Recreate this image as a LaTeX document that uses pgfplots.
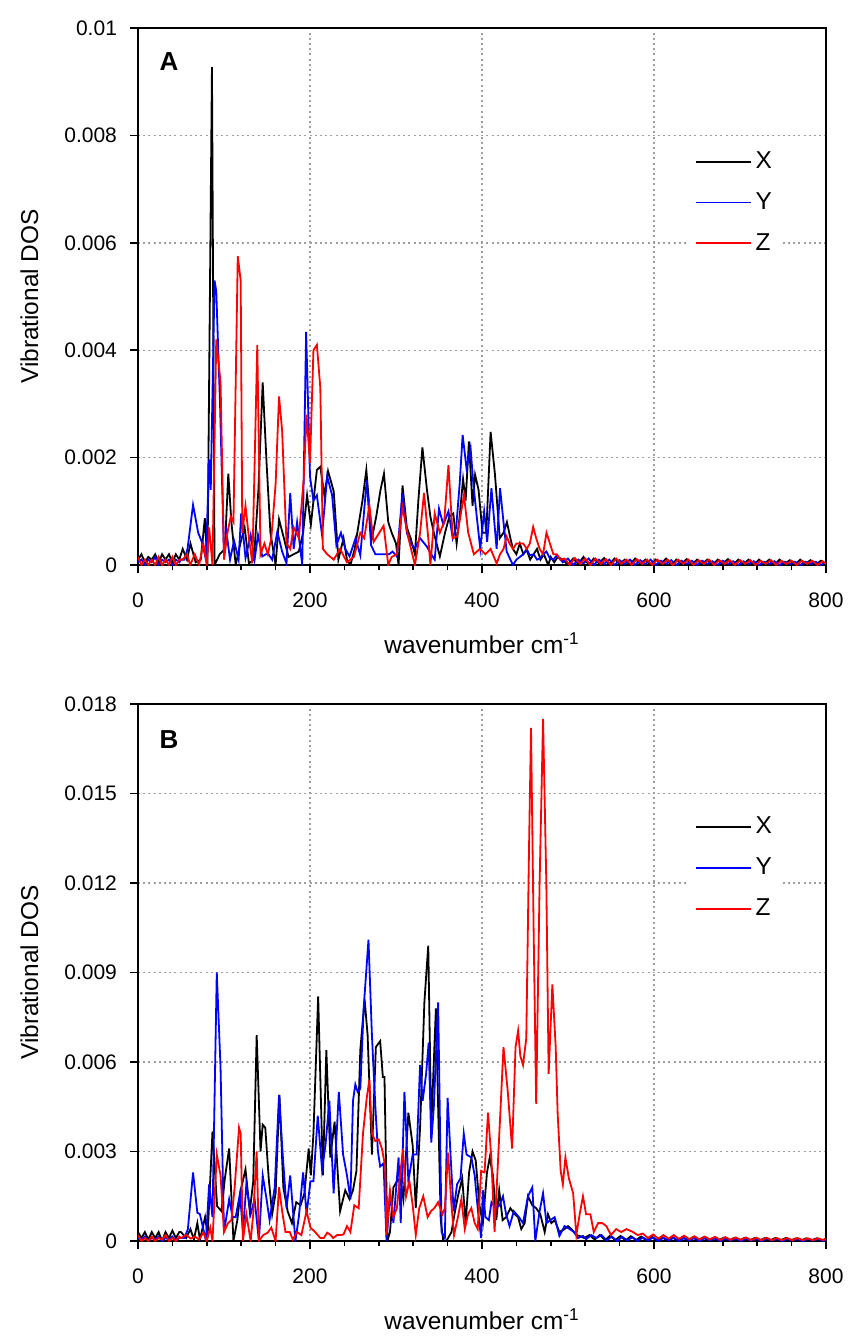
\documentclass[border=0pt]{standalone}
\usepackage{fontspec}
\setmainfont{Liberation Sans}
\usepackage{pgfplots}
\pgfplotsset{compat=1.18}
\begin{document}
\begin{tikzpicture}[x=1pt,y=1pt]
\useasboundingbox (0,0) rectangle (426.5,-669);
\pgfplotsset{
  dosaxis/.style={
    scale only axis, width=344pt, height=268.5pt,
    font=\fontsize{10.5}{12}\selectfont,
    xmin=0, xmax=800, xtick={0,200,...,800}, minor x tick num=4,
    ymin=0,
    tick align=outside, xtick pos=left, ytick pos=left,
    major tick length=4pt, minor tick length=2.5pt,
    every tick/.style={black, line width=0.8pt},
    axis line style={line width=0.9pt},
    grid=major,
    major grid style={gray!75, line width=0.7pt, dash pattern=on 1pt off 1.6pt},
    scaled y ticks=false, scaled x ticks=false,
    yticklabel style={/pgf/number format/fixed, /pgf/number format/precision=3, /pgf/number format/assume math mode=true, xshift=-3pt},
    xticklabel style={/pgf/number format/assume math mode=true, yshift=-6.5pt},
    xlabel={wavenumber cm\textsuperscript{-1}},
    ylabel={Vibrational DOS},
    label style={font=\fontsize{12.2}{14}\selectfont},
    xlabel style={at={(axis description cs:0.5,0)}, anchor=base, yshift=-44pt},
    ylabel style={at={(axis description cs:-0.1453,0.5)}, anchor=base},
    legend cell align=left,
    legend image code/.code={\draw[#1, line width=0.9pt] (0pt,0pt) -- (27.5pt,0pt);},
    legend style={draw=none, fill=white, anchor=north west, row sep=6.5pt,
      font=\fontsize{12.2}{14}\selectfont, nodes={inner sep=2pt}},
    every axis plot/.append style={line width=0.9pt, mark=none},
  }
}
% ---------------- Panel A ----------------
\begin{axis}[dosaxis, at={(69pt,-282.5pt)}, anchor=south west,
  ymax=0.01, ytick={0,0.002,...,0.0101},
  legend style={at={(rel axis cs:0.80,0.785)}}]
\addplot[black] coordinates {
(0,0.0001)(4,0.0002)(8,0.00005)(12,0.00015)(16,0.0001)(20,0.0002)(24,0.00005)(28,0.0002)(32,0.0001)(36,0.0002)(40,0.00005)(44,0.0002)(48,0.0001)(52,0.0003)(57,0.0001)(61,0.0004)(67,0.00005)(73,0.0001)(77.7,0.00087)(80.8,0)(86,0.00927)(89,0)(95,0.0002)(101,0.0003)(105,0.0017)(108.6,0.0008)(113.6,0)(119,0.0004)(124,0.0007)(129,0.00003)(134.8,0.0001)(140,0.0014)(145,0.0034)(149.5,0.0019)(154,0.0006)(160,0)(164,0.00085)(169.6,0.0005)(175,0.00015)(181,0.0002)(187,0.00025)(192,0.0006)(196.6,0.0013)(201,0.00075)(208,0.00177)(212,0.00183)(216.7,0.0013)(221,0.00175)(227.6,0.00137)(233,0.0001)(239,0.0005)(243,0.0001)(247,0)(252,0.0003)(256,0.0007)(261,0.0012)(265.5,0.00177)(272,0.0005)(277,0.0009)(282,0.0014)(286,0.0017)(291,0.0008)(295,0.0006)(300,0.0004)(303,0)(307.6,0.00148)(312.6,0.0007)(317,0.0005)(322,0.0002)(326,0.0012)(330.7,0.00219)(336,0.0014)(340,0.0009)(344,0.0006)(351,0.00016)(357,0.0006)(362,0.0009)(366.6,0.00096)(370.5,0.0004)(374,0.0009)(378,0.0016)(381,0.0012)(384.8,0.0023)(389,0.0011)(392,0.00168)(396,0.0014)(400.6,0.0006)(405,0.0006)(410,0.00248)(415,0.0017)(420.7,0.0005)(425,0.0006)(429,0.0008)(433,0.0005)(436,0.0003)(440,0.0002)(444,0.0004)(448,0.0002)(452,0.00028)(456,0.0001)(460,0.0002)(464,0.0003)(468,0.0001)(472,0.0002)(477,0)(480,0.00015)(484,0.00005)(488,0.00015)
(494,0.0001)(500,0)(506,0.00012)(512,0.00002)(518,0.00015)(524,0)(530,0.00012)(536,0.00003)(542,0.00013)(548,0)(554,0.00012)(560,0.00002)(566,0.0001)(572,0)(578,0.00012)(584,0.00002)(590,0.0001)(596,0)(602,0.0001)(608,0.00002)(614,0.00012)(620,0)(626,0.0001)(632,0.00002)(638,0.00011)(644,0)(650,0.0001)(656,0.00002)(662,0.0001)(668,0)(674,0.0001)(680,0.00002)(686,0.00011)(692,0)(698,0.0001)(704,0.00002)(710,0.0001)(716,0)(722,0.0001)(728,0.00002)(734,0.0001)(740,0)(746,0.0001)(752,0.00002)(758,0.00009)(764,0)(770,0.0001)(776,0.00002)(782,0.00009)(788,0)(794,0.00008)(800,0.00002)
};
\addlegendentry{X}
\addplot[blue] coordinates {
(0,0.00005)(4,0.0001)(8,0)(12,0.0001)(16,0.00005)(20,0.00015)(24,0)(28,0.0001)(32,0.00005)(36,0.0001)(40,0)(44,0.0001)(48,0.00005)(50,0.0001)(54,0.0001)(57.6,0.0003)(64,0.00112)(70,0.0006)(75,0.0004)(79,0.0001)(82.7,0.00196)(84.6,0.0014)(89,0.0053)(91,0.0051)(95.4,0.003)(100,0.00016)(103,0.0006)(107,0.0001)(111.7,0.00045)(117,0.0001)(120,0.00096)(125,0.00013)(131,0.00056)(135.6,0.0001)(139.5,0.00056)(144.5,0.00016)(151,0.00022)(156,0.0001)(162,0.00062)(167.6,0.00025)(172.7,0.00003)(177,0.00134)(181,0.0003)(185,0.0008)(191,0)(195.5,0.00434)(200,0.00165)(204,0.0012)(208,0.0013)(214,0.00056)(220,0.00165)(225.7,0.0013)(230.7,0.00037)(236,0.0006)(241,0.0003)(246,0.00016)(253,0.0005)(258.5,0.00018)(266,0.00158)(271,0.00037)(276,0.0002)(280,0.0002)(287.5,0.0002)(292,0.0002)(296,0.00025)(301,0.00016)(307.6,0.00134)(312.6,0.0006)(317,0.0004)(322,0.00031)(328,0.0005)(336,0.00034)(341,0.0002)(345,0.0001)(350,0.00105)(355,0.00075)(361,0.001)(366,0.0005)(370,0.0007)(374,0.0015)(377.5,0.00242)(382,0.0018)(386.7,0.00218)(390,0.0015)(393.7,0.00093)(398,0.0003)(402.5,0.001)(406,0.00043)(411,0.00143)(417,0.0003)(421,0.00143)(425,0.0008)(428.7,0.00025)(433,0.0001)(436,0)(440,0.0001)(444,0.00015)(448,0.0002)(452,0.0003)(455.6,0.00018)(460,0.0002)(464,0.0001)(467,0.00012)(471,0.0002)(475,0.00025)(479,0.00012)(483,0.0001)(487,0.00018)
(494,0.00005)(500,0.00012)(506,0)(512,0.0001)(518,0.00003)(524,0.00012)(530,0)(536,0.0001)(542,0.00002)(548,0.0001)(554,0)(560,0.00009)(566,0.00002)(572,0.0001)(578,0)(584,0.00009)(590,0.00002)(596,0.0001)(602,0)(608,0.00008)(614,0.00002)(620,0.00009)(626,0)(632,0.00008)(638,0.00002)(644,0.00008)(650,0)(656,0.00008)(662,0.00002)(668,0.00007)(674,0)(680,0.00008)(686,0.00002)(692,0.00007)(698,0)(704,0.00007)(710,0.00002)(716,0.00007)(722,0)(728,0.00006)(734,0.00002)(740,0.00007)(746,0)(752,0.00006)(758,0.00002)(764,0.00006)(770,0)(776,0.00006)(782,0.00002)(788,0.00006)(794,0)(800,0.00005)
};
\addlegendentry{Y}
\addplot[red] coordinates {
(0,0.00015)(4,0)(8,0.0001)(12,0)(16,0.0001)(20,0)(24,0.00015)(28,0)(32,0.0001)(36,0)(40,0.00015)(44,0)(48,0.0001)(52,0.0001)(57,0.0002)(60.7,0)(66,0.0002)(71,0)(76,0.0004)(80,0)(82.7,0.0007)(86.6,0)(91,0.0042)(96,0.0034)(100,0.0001)(104,0.0006)(107.8,0.0009)(111,0.0008)(116,0.00575)(119.4,0.0053)(121.3,0.0006)(125,0.0011)(129,0.0005)(133,0.00003)(138.7,0.0041)(142.5,0.0002)(147,0.0004)(151,0.0002)(155,0.0005)(160,0.0015)(164,0.00314)(167.6,0.0025)(172.7,0.0004)(177,0.0003)(181,0.0007)(187,0.0005)(192.7,0.0016)(196,0.0028)(200,0.0019)(204,0.004)(208,0.0041)(212,0.0033)(215,0.0003)(220,0.0002)(227.6,0.0001)(235,0.0003)(243,0.00005)(251,0.00015)(258.5,0.0006)(263,0.0005)(269,0.0011)(274,0.00043)(278.6,0.00055)(285.6,0.00073)(291,0)(295,0.00015)(301,0.0002)(307.6,0.00107)(314.5,0.0005)(322,0)(328,0.0006)(332.6,0.00134)(337.7,0.00047)(340,0)(345,0.00096)(351,0.0006)(356,0.0008)(361,0.00186)(366,0.0005)(371,0.00053)(379,0.0013)(384,0.0006)(390.5,0.0002)(397.5,0.0003)(404,0.0002)(410,0.0003)(417,0.00003)(421,0.0002)(425,0.0003)(428.7,0.00053)(432,0.0004)(436,0.0003)(440,0.0004)(444,0.0004)(448,0.0004)(452,0.0003)(455.6,0.0004)(459.5,0.00071)(463,0.0005)(467,0.0003)(471,0.0002)(475,0.0006)(479,0.0004)(483,0.0002)(487,0.0002)(491,0.0001)
(496,0.00012)(502,0)(508,0.00013)(514,0.00002)(520,0.00012)(526,0)(532,0.00012)(538,0.00002)(544,0.00011)(550,0)(556,0.00012)(562,0.00002)(568,0.0001)(574,0)(580,0.00011)(586,0.00002)(592,0.0001)(598,0)(604,0.0001)(610,0.00002)(616,0.0001)(622,0)(628,0.0001)(634,0.00002)(640,0.0001)(646,0)(652,0.00009)(658,0.00002)(664,0.0001)(670,0)(676,0.00009)(682,0.00002)(688,0.00009)(694,0)(700,0.00009)(706,0.00002)(712,0.00009)(718,0)(724,0.00008)(730,0.00002)(736,0.00009)(742,0)(748,0.00008)(754,0.00002)(760,0.00008)(766,0)(772,0.00008)(778,0.00002)(784,0.00008)(790,0)(796,0.00007)(800,0.00002)
};
\addlegendentry{Z}
\node[font=\fontsize{13}{15}\selectfont\bfseries] at (rel axis cs:0.045,0.937) {A};
\end{axis}
% ---------------- Panel B ----------------
\begin{axis}[dosaxis, at={(69pt,-620.5pt)}, anchor=south west,
  ymax=0.018, ytick={0,0.003,...,0.0181},
  legend style={at={(rel axis cs:0.80,0.805)}}]
\addplot[black] coordinates {
(0,0.0003)(4,0.0001)(8,0.0003)(12,0.00005)(16,0.0003)(20,0.0001)(24,0.0003)(28,0)(32,0.0003)(36,0.0001)(40,0.00035)(44,0.0001)(48,0.0003)(50,0.0003)(56,0.0001)(61,0.0004)(65,0.00005)(69,0.0006)(72,0.00005)(78,0.0008)(81,0.0002)(86.6,0.00367)(92,0.00117)(97,0.001)(101,0.0021)(106,0.0031)(111,0)(115.5,0.0007)(119.4,0.0017)(125,0.0024)(130,0.001)(134,0.002)(138,0.0069)(142.5,0.003)(145,0.0039)(148,0.0038)(152,0.0021)(156,0.0009)(160,0.0016)(164.5,0.0049)(169,0.0018)(174,0.001)(179,0.0006)(184,0.0013)(189,0.0012)(193.5,0.0016)(198.5,0.0031)(201,0.0022)(204,0.0036)(209.5,0.0082)(215,0.0022)(219,0.0064)(223.6,0.0028)(228.6,0.004)(232,0.0024)(235,0.001)(241,0.0017)(246,0.0014)(250,0.0017)(254,0.00235)(258.5,0.0064)(263.5,0.0081)(267,0.0069)(272,0.0029)(276.6,0.0065)(281.6,0.0067)(284.7,0.0055)(286.6,0.0055)(290,0)(293,0.0003)(297,0.0018)(301,0.002)(304.8,0.0021)(308.6,0.0014)(314.4,0.0043)(319.4,0.0032)(323,0.0011)(328,0.0038)(333,0.008)(337.5,0.0099)(341,0.0038)(346.4,0.0078)(349,0.0045)(352,0.0007)(355,0)(358.7,0)(364.5,0.0003)(368,0.0009)(372,0.0015)(377,0.0021)(381,0.0006)(385,0.0023)(389,0.003)(392.7,0.0027)(397,0.0012)(401,0.0006)(405.8,0.0023)(409,0.0028)(412.7,0.0022)(416.6,0.0007)(420,0.0017)(424,0.0007)(428,0.0008)(433,0.0011)(438,0.0009)(442,0.0008)(445.7,0.0004)(449.6,0.0006)(453.5,0.0015)(458.5,0.0012)(463,0.0011)(467.8,0.0009)(472.9,0.0003)(476.7,0.0009)(480.6,0.0006)(484.5,0.0007)(490,0.0003)(496,0.0004)(500,0.0005)(504,0.0004)(509.7,0.0002)(513.6,0.00017)(519,0.0001)
(525,0.0002)(531,0.00005)(537,0.0002)(543,0.00003)(549,0.00018)(555,0.00003)(561,0.00017)(567,0.00002)(573,0.00016)(579,0.00003)(585,0.00015)(591,0.00002)(597,0.00015)(603,0.00003)(609,0.00014)(615,0.00002)(621,0.00013)(627,0.00002)(633,0.00013)(639,0.00002)(645,0.00012)(651,0.00002)(657,0.00012)(663,0.00002)(669,0.00011)(675,0.00002)(681,0.00011)(687,0.00002)(693,0.0001)(699,0.00002)(705,0.0001)(711,0.00002)(717,0.0001)(723,0.00002)(729,0.0001)(735,0.00002)(741,0.0001)(747,0.00002)(753,0.0001)(759,0.00002)(765,0.00009)(771,0.00002)(777,0.00009)(783,0.00002)(789,0.00009)(795,0.00002)(800,0.00008)
};
\addlegendentry{X}
\addplot[blue] coordinates {
(0,0.0001)(4,0.00005)(8,0.00015)(12,0)(16,0.0001)(20,0.00005)(24,0.00015)(28,0)(32,0.0001)(36,0.00005)(40,0.00015)(44,0)(48,0.0001)(54,0.0001)(58,0.0004)(64,0.0023)(69,0.00095)(72,0.0009)(76,0.0004)(79,0)(82.7,0.0019)(86.6,0.0008)(91.6,0.009)(96,0.0058)(100,0.0003)(106,0.0014)(110,0.0008)(113.6,0.0008)(118.6,0.0016)(122,0.0003)(126,0.0019)(131,0.0009)(135.6,0.0014)(140.6,0)(145,0.0022)(149.5,0.0014)(153,0.0007)(159,0.0018)(164,0.0049)(168,0.003)(172.7,0.0011)(177,0.0022)(183,0)(187,0.0008)(192,0.0023)(196,0.0009)(200.5,0.002)(204,0.002)(209,0.0042)(214,0.0024)(218,0.0032)(222.5,0.0047)(227.5,0.0016)(233.5,0.005)(238.5,0.0029)(243,0.0022)(247,0.0014)(250,0.0047)(252.7,0.00525)(255.4,0.005)(258.5,0.0051)(262.4,0.0078)(268,0.0101)(272,0.0069)(276,0.0045)(279,0.003)(281.6,0.0025)(285.5,0.0026)(289,0)(293,0.0016)(297,0.0006)(303,0.0028)(305.5,0.0006)(309.8,0.005)(314.4,0.002)(319.4,0.0029)(324,0.0029)(328,0.0059)(331,0.0047)(335,0.0056)(338,0.00665)(341,0.0033)(344,0.0045)(349,0.008)(353,0.0003)(356.8,0.0001)(360,0.0048)(363.4,0.0029)(367,0.001)(371,0.0019)(375,0.0021)(378.8,0.0036)(382,0.0029)(387.6,0.0028)(391.5,0.0022)(395,0.0011)(399,0.0001)(401,0.0017)(404,0.0008)(408,0.0007)(411,0.0013)(416,0.0011)(420.5,0.0012)(424.4,0.0015)(428,0.0009)(432,0.0005)(437,0.001)(443,0.0008)(447.7,0.0006)(453.5,0.0015)(458.5,0.0018)(462,0)(467,0.001)(471,0.0016)(475,0.0006)(479.5,0.0007)(484.5,0.0008)(490,0.00017)(496,0.0005)(502,0.0004)(507,0.0003)(511.6,0.0001)(517.4,0.00017)(521,0.00006)(527,0.0002)(533,0.0001)(539,0.0002)
(545,0.00002)(551,0.00015)(557,0)(563,0.00014)(569,0.00002)(575,0.00013)(581,0)(587,0.00012)(593,0.00002)(599,0.00012)(605,0)(611,0.00011)(617,0.00002)(623,0.00011)(629,0)(635,0.0001)(641,0.00002)(647,0.0001)(653,0)(659,0.0001)(665,0.00002)(671,0.00009)(677,0)(683,0.00009)(689,0.00002)(695,0.00009)(701,0)(707,0.00008)(713,0.00002)(719,0.00008)(725,0)(731,0.00008)(737,0.00002)(743,0.00008)(749,0)(755,0.00007)(761,0.00002)(767,0.00007)(773,0)(779,0.00007)(785,0.00002)(791,0.00007)(797,0)(800,0.00005)
};
\addlegendentry{Y}
\addplot[red] coordinates {
(0,0.0002)(4,0)(8,0.0001)(12,0)(16,0.00015)(20,0)(24,0.0001)(28,0.00005)(32,0.0002)(36,0)(40,0.0001)(44,0)(48,0.00015)(50,0.0001)(56,0.0002)(61.5,0.00008)(66,0.00015)(71,0.00005)(76,0.00028)(80,0)(84,0.00045)(86.6,0)(91.6,0.0029)(96,0.0022)(100,0.0003)(104.7,0.0006)(108.6,0.0007)(112.4,0.0018)(117.5,0.0038)(119.4,0.0036)(122,0)(126,0.0009)(131,0)(134,0.0009)(138,0.003)(140.6,0)(145.6,0.0002)(151,0.00028)(155,0.00045)(160,0)(164,0.0018)(167.6,0.001)(171.5,0.0003)(176.5,0.0003)(180,0.00005)(185,0.0003)(190,0.0002)(196,0.001)(200.5,0.00045)(206,0.0003)(212,0.0001)(216,0.0001)(220,0.00028)(224,0.0002)(227,0.0001)(231.5,0.0002)(235,0.0002)(239,0.00022)(243,0.0005)(247,0.0003)(251.5,0.0012)(256.6,0.0011)(261.6,0.0036)(266,0.0048)(269,0.0054)(272,0.0036)(276,0.00335)(280,0.0034)(283.6,0.0031)(287.4,0.0025)(289,0.0002)(293,0.0017)(297,0.0008)(301,0.0011)(304.8,0.0022)(308,0.00307)(311.7,0.0015)(315.6,0.002)(319.4,0.0012)(323,0.0002)(327,0.0011)(331.7,0.0015)(336.8,0.0008)(340.6,0.001)(344.5,0.0011)(349,0.0013)(354,0.0009)(356.8,0.0011)(360.6,0.00296)(364.5,0.0012)(367.5,0.0002)(372,0.0008)(376,0.0014)(380,0.0004)(383.8,0.0009)(387.6,0.0011)(391.5,0.0006)(395,0.0004)(399,0.00235)(403,0.0023)(407,0.0043)(410.8,0.0028)(414.6,0.0003)(420,0.0035)(425,0.0065)(430,0.005)(435,0.0031)(439,0.0065)(442,0.00705)(444.6,0.0062)(447.7,0.0059)(451.5,0.0068)(454.7,0.0132)(457,0.0172)(460,0.0105)(463,0.0046)(467,0.012)(471,0.0175)(474.8,0.012)(477.5,0.0056)(481.8,0.0086)(485.7,0.0065)(488,0.00425)(491.5,0.00235)(494,0.0019)(497,0.0028)(501,0.0021)(506,0.0016)(509.7,0.0002)(513.6,0.0009)(517.4,0.0015)(521,0.0009)(526,0.0009)(530,0.0003)(535,0.0006)(540,0.0006)(544.6,0.0005)(550,0.0002)(556,0.0004)(562,0.0003)(568,0.0004)(575.6,0.0003)(581,0.0002)
(587,0.00025)(593,0.0001)(599,0.00022)(605,0.00008)(611,0.0002)(617,0.00008)(623,0.0002)(629,0.00007)(635,0.00018)(641,0.00006)(647,0.00016)(653,0.00005)(659,0.00015)(665,0.00005)(671,0.00014)(677,0.00004)(683,0.00013)(689,0.00004)(695,0.00012)(701,0.00004)(707,0.00012)(713,0.00003)(719,0.00011)(725,0.00003)(731,0.00011)(737,0.00003)(743,0.0001)(749,0.00003)(755,0.0001)(761,0.00003)(767,0.0001)(773,0.00003)(779,0.00009)(785,0.00003)(791,0.00009)(797,0.00003)(800,0.00007)
};
\addlegendentry{Z}
\node[font=\fontsize{13}{15}\selectfont\bfseries] at (rel axis cs:0.045,0.933) {B};
\end{axis}
\end{tikzpicture}
\end{document}
